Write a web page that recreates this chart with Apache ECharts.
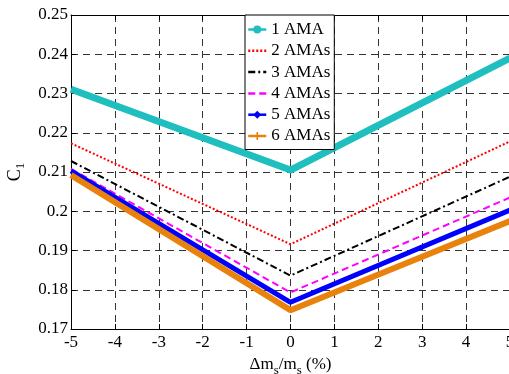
<!DOCTYPE html>
<html><head><meta charset="utf-8">
<script src="https://cdn.jsdelivr.net/npm/echarts@6/dist/echarts.min.js"></script>
<style>html,body{margin:0;padding:0;background:#fff}#c{width:509px;height:374px}</style>
</head><body><div id="c"></div>
<script>
const xValues = [-5, 0, 5];
const seriesNames = ['1 AMA', '2 AMAs', '3 AMAs', '4 AMAs', '5 AMAs', '6 AMAs'];
const ama1 = [0.2311, 0.2105, 0.2390];
const ama2 = [0.2173, 0.1916, 0.2178];
const ama3 = [0.2128, 0.1836, 0.2088];
const ama4 = [0.2108, 0.1793, 0.2035];
const ama5 = [0.2103, 0.1768, 0.2003];
const ama6 = [0.2092, 0.1748, 0.1975];
const xTicks = [-5, -4, -3, -2, -1, 0, 1, 2, 3, 4, 5];
const yTicks = [0.17, 0.18, 0.19, 0.2, 0.21, 0.22, 0.23, 0.24, 0.25];

const FONT = 'Liberation Serif';
const pairs = v => xValues.map((x, i) => [x, v[i]]);
const styles = [
  {color: '#1fbfbf', width: 7, type: 'solid', symbol: 'circle'},
  {color: '#ff0000', width: 2, type: [2, 2], symbol: 'none'},
  {color: '#000000', width: 2, type: [7, 3, 2, 3], symbol: 'none'},
  {color: '#ff00ff', width: 2, type: [7, 4], symbol: 'none'},
  {color: '#0000ff', width: 5, type: 'solid', symbol: 'diamond'},
  {color: '#e8820c', width: 6, type: 'solid', symbol: 'path://M4,0 L6,0 L6,4 L10,4 L10,6 L6,6 L6,10 L4,10 L4,6 L0,6 L0,4 L4,4 Z'}
];
const values = [ama1, ama2, ama3, ama4, ama5, ama6];

const chart = echarts.init(document.getElementById('c'));
const axisCommon = {
  axisLine: {show: true, onZero: false, lineStyle: {color: '#000', width: 1}},
  axisTick: {show: true, inside: true, length: 5, lineStyle: {color: '#000'}},
  splitLine: {show: true, lineStyle: {color: '#333', type: [7, 5], width: 1}},
  axisLabel: {color: '#000', fontFamily: FONT, fontSize: 17}
};
chart.setOption({
  animation: false,
  backgroundColor: '#fff',
  textStyle: {fontFamily: FONT, color: '#000'},
  grid: {left: 71, top: 15, right: -1, bottom: 45, containLabel: false, outerBoundsMode: 'none'},
  xAxis: [
    Object.assign({}, axisCommon, {
      type: 'value', min: xTicks[0], max: xTicks[xTicks.length - 1], interval: 1,
      axisLabel: Object.assign({}, axisCommon.axisLabel, {margin: 5}),
      name: '{n|\u0394m}{s|s}{n|/m}{s|s}{n| (%)}',
      nameLocation: 'middle', nameGap: 20,
      nameTextStyle: {fontFamily: FONT, fontSize: 17, color: '#000',
        rich: {n: {fontFamily: FONT, fontSize: 17, color: '#000'},
               s: {fontFamily: FONT, fontSize: 13, color: '#000', padding: [12, 0, 0, 0]}}}
    }),
    {type: 'value', position: 'top', min: -5, max: 5, interval: 1,
     axisLine: {show: true, onZero: false, lineStyle: {color: '#000'}},
     axisTick: {show: true, inside: true, length: 5, lineStyle: {color: '#000'}},
     axisLabel: {show: false}, splitLine: {show: false}}
  ],
  yAxis: Object.assign({}, axisCommon, {
    type: 'value', min: yTicks[0], max: yTicks[yTicks.length - 1], interval: 0.01,
    axisLabel: Object.assign({}, axisCommon.axisLabel, {margin: 3}),
    name: '{n|C}{s|1}', nameLocation: 'middle', nameRotate: 90, nameGap: 42,
    nameTextStyle: {fontFamily: FONT, fontSize: 17, color: '#000',
      rich: {n: {fontFamily: FONT, fontSize: 18, color: '#000'},
             s: {fontFamily: FONT, fontSize: 13, color: '#000', padding: [12, 0, 0, 0]}}}
  }),
  legend: {
    orient: 'vertical', left: 245, top: 15,
    padding: [6, 4, 5, 2], itemGap: 4.3, itemWidth: 18, itemHeight: 10,
    backgroundColor: '#fff', borderColor: '#000', borderWidth: 1, borderRadius: 0,
    textStyle: {fontFamily: FONT, fontSize: 17, color: '#000'},
    lineStyle: {width: 2.5},
    data: seriesNames.map((n, i) => styles[i].symbol === 'none'
      ? {name: n, itemStyle: {opacity: 0}} : {name: n})
  },
  series: seriesNames.map((n, i) => ({
    name: n, type: 'line', data: pairs(values[i]),
    symbol: styles[i].symbol, showSymbol: false, symbolSize: 8,
    lineStyle: {color: styles[i].color, width: styles[i].width, type: styles[i].type},
    itemStyle: {color: styles[i].color},
    z: 2 + i
  }))
});
</script></body></html>
